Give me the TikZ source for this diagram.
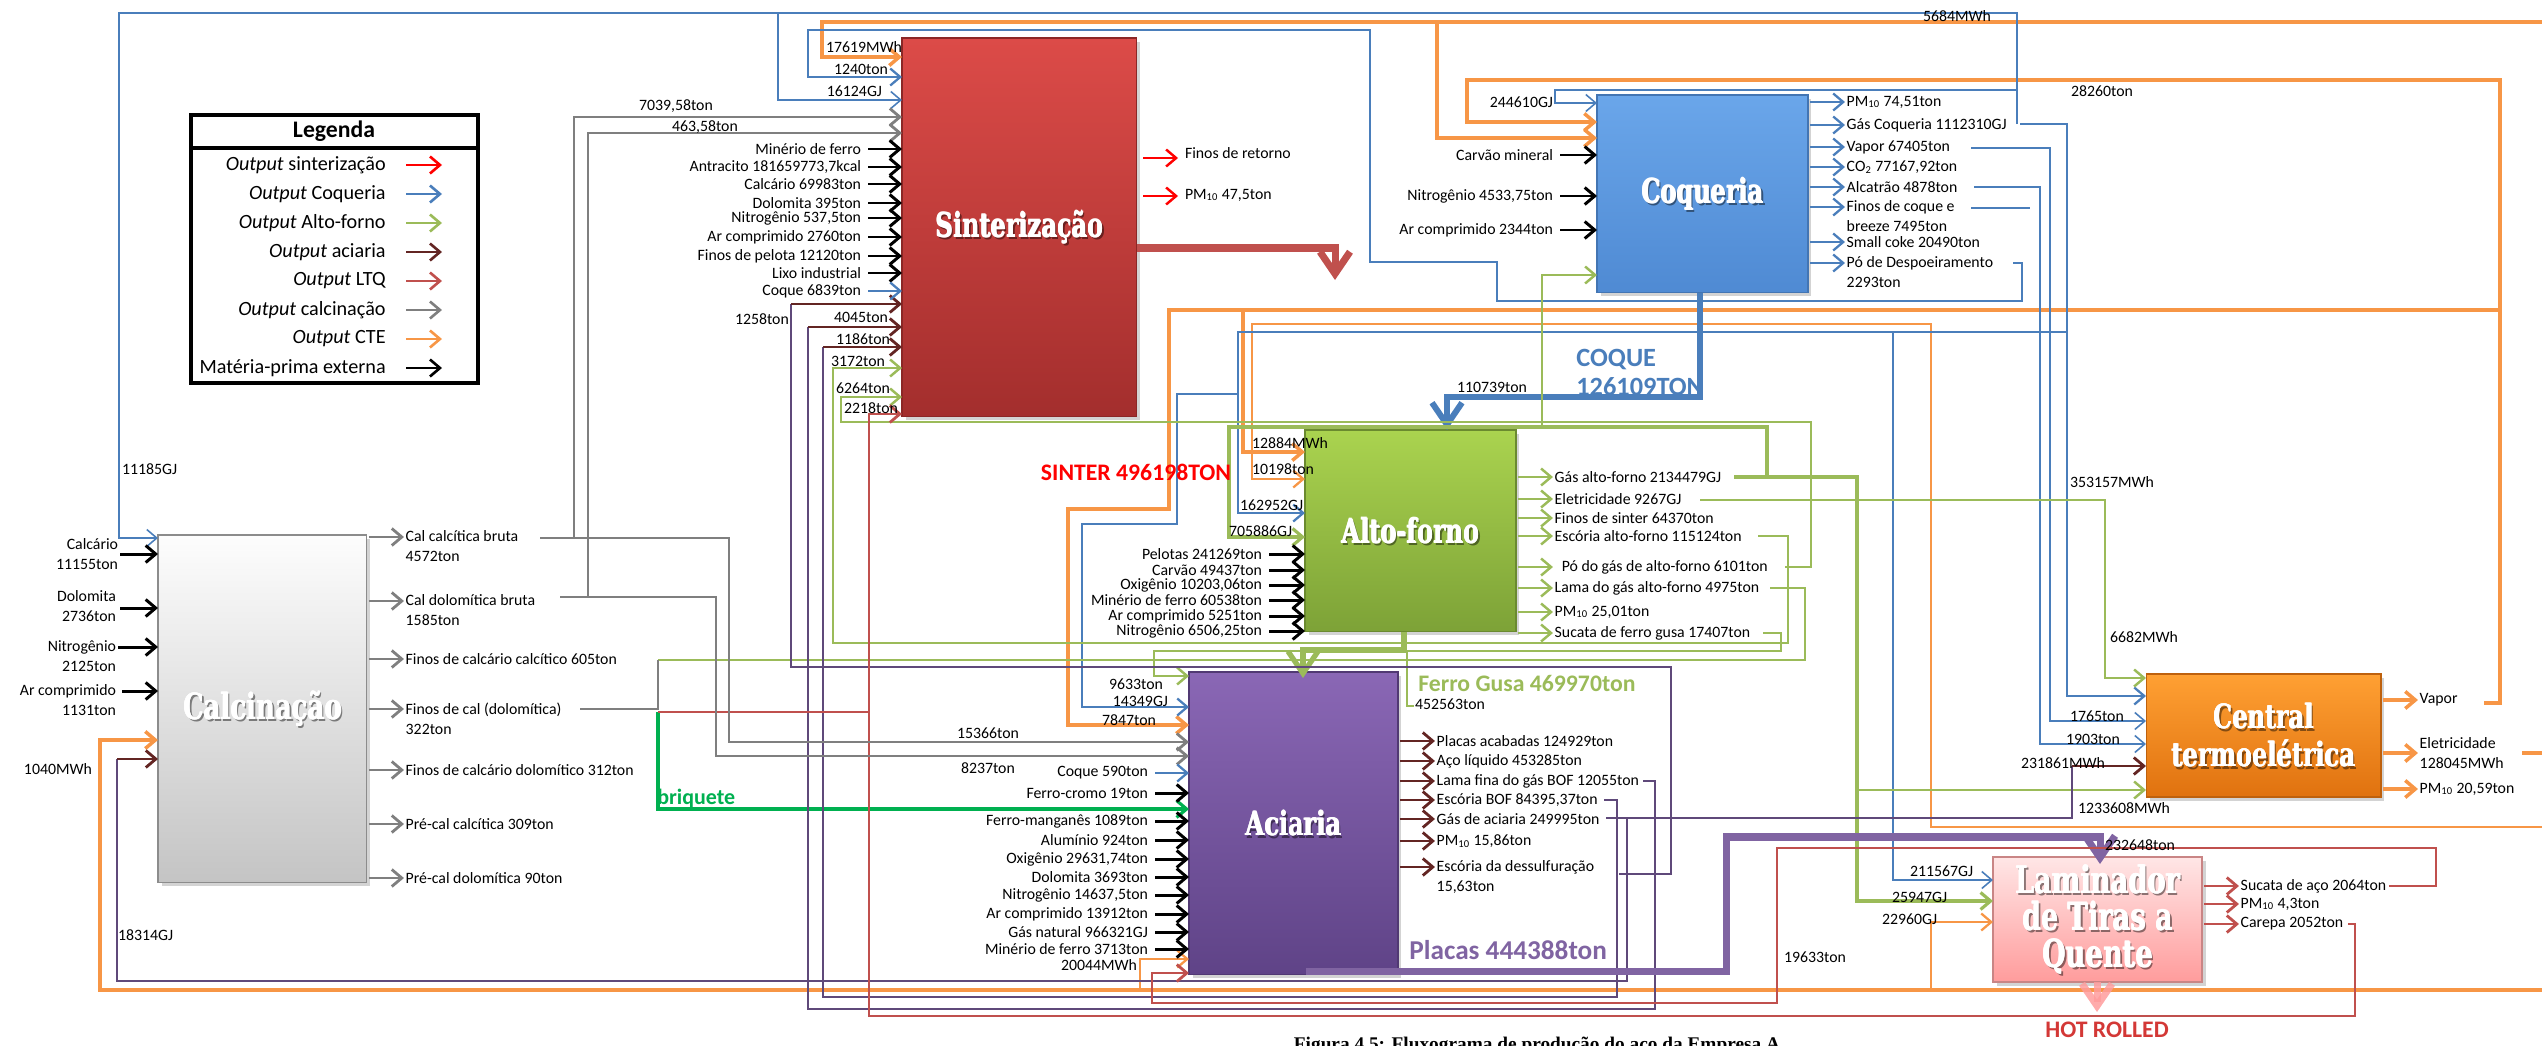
\documentclass[tikz,border=0pt]{standalone}
\usepackage{fontspec}
\setmainfont{Carlito}
\newfontfamily\titlefont{DejaVu Serif}[FakeStretch=0.72]
\newfontfamily\capfont{Liberation Serif}
\usetikzlibrary{arrows.meta,shadows}

% flow colours
\definecolor{cSin}{HTML}{FF0000}
\definecolor{cCoq}{HTML}{4A7EBB}
\definecolor{cAF}{HTML}{9BBB59}
\definecolor{cAciArr}{HTML}{632523}
\definecolor{cAci}{HTML}{5F497A}
\definecolor{cPla}{HTML}{8064A2}
\definecolor{cLTQ}{HTML}{C0504D}
\definecolor{cCal}{HTML}{7F7F7F}
\definecolor{cCTE}{HTML}{F79646}
\definecolor{cBri}{HTML}{00B050}
% box colours
\definecolor{sinT}{HTML}{DC4B48}
\definecolor{sinB}{HTML}{A32E2D}
\definecolor{coqT}{HTML}{6AA6EA}
\definecolor{coqB}{HTML}{4F8AD3}
\definecolor{afT}{HTML}{AAD34F}
\definecolor{afB}{HTML}{7DA237}
\definecolor{aciT}{HTML}{8A67B5}
\definecolor{aciB}{HTML}{5F4387}
\definecolor{calT}{HTML}{FDFDFD}
\definecolor{calB}{HTML}{C4C4C4}
\definecolor{calD}{HTML}{8C8C8C}
\definecolor{cteT}{HTML}{FFA033}
\definecolor{cteB}{HTML}{E0720F}
\definecolor{ltqT}{HTML}{FFE6E6}
\definecolor{ltqB}{HTML}{FF9C9C}
\definecolor{ltqD}{HTML}{C98585}

\tikzset{
  tipS/.style={-{Straight Barb[length=2mm,width=3.4mm]}},
  tipB/.style={-{Straight Barb[length=4.4mm,width=6mm]}},
  lbl/.style={font=\fontsize{9}{11.4}\selectfont, inner sep=0pt, outer sep=0pt},
  leg/.style={font=\fontsize{11.5}{13}\selectfont, inner sep=0pt},
  big/.style={font=\bfseries\fontsize{13.5}{15.5}\selectfont, inner sep=0pt},
  box/.style={rectangle, inner sep=0pt, outer sep=0pt, anchor=north west, line width=0.6pt,
    drop shadow={shadow xshift=2pt, shadow yshift=-2pt, opacity=0.35}},
  titl/.style={font=\titlefont\bfseries\fontsize{19}{21.6}\selectfont, text=white, align=center, inner sep=0pt},
  titlsh/.style={titl, text=black, opacity=0.45},
  lk/.style={draw=black, line width=1.7pt},
  lo/.style={draw=cCTE, line width=2pt},
  lot/.style={draw=cCTE, line width=1.3pt},
  lb/.style={draw=cCoq, line width=1.3pt},
  lbt/.style={draw=cCoq, line width=0.9pt},
  lg/.style={draw=cAF, line width=1.4pt},
  lp/.style={draw=cAci, line width=1.6pt},
  ldr/.style={draw=cAciArr, line width=1.6pt},
  lr/.style={draw=cLTQ, line width=1.6pt},
  lgr/.style={draw=cCal, line width=1.6pt},
  lsr/.style={draw=cSin, line width=1.4pt},
}

% heavy white title with a soft shadow, centred in a box
\newcommand\boxtitle[4]{%
  \node[titlsh,#3,xshift=1.2pt,yshift=-1.2pt] (#1s) at (#2.center) {#4};
  \node[titl,#3,xshift=0.35pt] (#1b) at (#2.center) {#4};
  \node[titl,#3,yshift=0.3pt] (#1c) at (#2.center) {#4};
  \node[titl,#3] (#1) at (#2.center) {#4};}
% right-aligned input label with a short arrow into a box
\newcommand\inlab[6]{%
  \node[lbl,anchor=east,align=right] (#1) at (#4,#3) {#6};
  \draw[#5,tipS] ([xshift=0.14cm]#1.east) -- (#2.west |- #1.east);}
% output arrow leaving a box, followed by its label
\newcommand\outarr[5]{%
  \draw[#4,tipS] (#2.east |- 0,#3) ++(2,0) -- ++(35,0) coordinate (#1a);
  \node[lbl,anchor=west,align=left] (#1) at ([xshift=1pt]#1a) {#5};}
% output arrow whose two-line label starts at the arrow height
\newcommand\outarrII[5]{%
  \draw[#4,tipS] (#2.east |- 0,#3) ++(2,0) -- ++(35,0) coordinate (#1a);
  \node[lbl,anchor=north west,align=left] (#1) at ([xshift=1pt,yshift=0.13cm]#1a) {#5};}

\begin{document}
\begin{tikzpicture}[x=0.02cm, y=-0.02cm]
\useasboundingbox (0,0) rectangle (2542,1045);
\clip (0,0) rectangle (2542,1045);

% ---------------- process boxes ----------------
\node[box, minimum width=4.70cm, minimum height=7.58cm, top color=sinT, bottom color=sinB, draw=sinB!85!black] (sint) at (902,38) {};
\node[box, minimum width=4.22cm, minimum height=3.96cm, top color=coqT, bottom color=coqB, draw=coqB!85!black] (coq) at (1597,95) {};
\node[box, minimum width=4.22cm, minimum height=4.04cm, top color=afT, bottom color=afB, draw=afB!85!black] (af) at (1305,430) {};
\node[box, minimum width=4.18cm, minimum height=6.06cm, top color=aciT, bottom color=aciB, draw=aciB!85!black] (aci) at (1189,672) {};
\node[box, minimum width=4.18cm, minimum height=6.96cm, top color=calT, bottom color=calB, draw=calD] (calc) at (158,535) {};
\node[box, minimum width=4.70cm, minimum height=2.46cm, top color=cteT, bottom color=cteB, draw=cteB!85!black] (cte) at (2146,674) {};
\node[box, minimum width=4.18cm, minimum height=2.50cm, top color=ltqT, bottom color=ltqB, draw=ltqD] (ltq) at (1993,857) {};

% ---------------- CTE flows (orange) ----------------
\draw[lo,tipS] (2542,22) -- (822,22) -- (822,57) -- (sint.west |- 0,57);
\draw[lo,tipS] (1437,22) -- (1437,138) -- (coq.west |- 0,138);
\draw[lo,tipS] (2484,703) -- (2500,703) -- (2500,80) -- (1467,80) -- (1467,122) -- (coq.west |- 0,122);
\draw[lo,tipS] (2500,310) -- (1169,310) -- (1169,509) -- (1068,509) -- (1068,725) -- (aci.west |- 0,725);
\draw[lo,tipS] (1243,310) -- (1243,452) -- (af.west |- 0,452);
\draw[lot,tipS] (2542,827) -- (1931,827) -- (1931,324) -- (1252,324) -- (1252,479) -- (af.west |- 0,479);
\draw[lo] (2522,753) -- (2542,753);
\draw[lo,tipS] (2542,990) -- (100,990) -- (100,740) -- (calc.west |- 0,740);
\draw[lot,tipS] (1931,990) -- (1931,922) -- (ltq.west |- 0,922);
\draw[lot,tipS] (1140,990) -- (1140,959) -- (aci.west |- 0,959);

% ---------------- coke-oven flows (blue) ----------------
\draw[lb,tipS] (2020,124) -- (2067,124) -- (2067,696) -- (cte.west |- 0,696);
\draw[lb,tipS] (2067,332) -- (1238,332) -- (1238,513) -- (af.west |- 0,513);
\draw[lb,tipS] (1238,394) -- (1177,394) -- (1177,524) -- (1082,524) -- (1082,707) -- (aci.west |- 0,707);
\draw[lbt,tipS] (1893,332) -- (1893,880) -- (ltq.west |- 0,880);
\draw[lbt,tipS] (2017,124) -- (2017,13) -- (119,13) -- (119,538) -- (calc.west |- 0,538);
\draw[lbt,tipS] (778,13) -- (778,100) -- (sint.west |- 0,100);
\draw[lbt,tipS] (2017,90) -- (1555,90) -- (1555,103) -- (coq.west |- 0,103);
\draw[lb,tipS] (2013,263) -- (2022,263) -- (2022,301) -- (1497,301) -- (1497,262) -- (1370,262) -- (1370,30) -- (808,30) -- (808,77) -- (sint.west |- 0,77);
\draw[lbt,tipS] (1971,148) -- (2050,148) -- (2050,721) -- (cte.west |- 0,721);
\draw[lbt,tipS] (1974,187) -- (2040,187) -- (2040,744) -- (cte.west |- 0,744);
\draw[lb] (1971,208) -- (2030,208);
\draw[draw=cCoq, line width=3.4pt, tipB] (coq.south -| 1700,0) -- (1700,397) -- (1447,397) -- (af.north -| 1447,0);

% ---------------- blast-furnace flows (green) ----------------
\draw[lg,line width=1.8pt,tipS] (1734,477) -- (1857,477) -- (1857,901) -- (ltq.west |- 0,901);
\draw[lg,tipS] (1857,790) -- (cte.west |- 0,790);
\draw[lg,line width=1.8pt,tipS] (1767,477) -- (1767,427) -- (1229,427) -- (1229,537) -- (af.west |- 0,537);
\draw[lg,tipS] (1542,427) -- (1542,275) -- (coq.west |- 0,275);
\draw[lg,tipS] (1700,500) -- (2105,500) -- (2105,678) -- (cte.west |- 0,678);
\draw[lg,tipS] (1758,536) -- (1788,536) -- (1788,643) -- (833,643) -- (833,368) -- (sint.west |- 0,368);
\draw[lg,tipS] (1785,567) -- (1811,567) -- (1811,422) -- (841,422) -- (841,397) -- (sint.west |- 0,397);
\draw[lg] (1770,588) -- (1805,588) -- (1805,660) -- (658,660);
\draw[lg,tipS] (1763,633) -- (1781,633) -- (1781,651) -- (1154,651) -- (1154,676) -- (aci.west |- 0,676);
\draw[draw=cAF, line width=3pt, tipB] (af.south -| 1404,0) -- (1404,650) -- (1303,650) -- (1303,678);
\draw[lg, line width=1pt] (1407,650) -- (1407,706) -- (1414,706);
\draw[draw=cBri, line width=1.8pt, tipS] (658,712) -- (658,809) -- (aci.west |- 0,809);

% ---------------- steel-shop flows (purple) ----------------
\draw[lp] (1619,874) -- (1671,874) -- (1671,667) -- (791,667) -- (791,304);
\draw[ldr,tipS] (791,304) -- (sint.west |- 0,304);
\draw[lp] (1643,781) -- (1655,781) -- (1655,1009) -- (808,1009) -- (808,327);
\draw[ldr,tipS] (808,327) -- (sint.west |- 0,327);
\draw[lp] (1604,800) -- (1617,800) -- (1617,997) -- (823,997) -- (823,347);
\draw[ldr,tipS] (823,347) -- (sint.west |- 0,347);
\draw[lp] (1606,818) -- (2072,818) -- (2072,766);
\draw[ldr,tipS] (2072,766) -- (cte.west |- 0,766);
\draw[lp] (1627,818) -- (1627,981) -- (117,981) -- (117,759);
\draw[ldr,tipS] (117,759) -- (calc.west |- 0,759);
\draw[draw=cPla, line width=4pt, tipB] (1306,971) -- (1726,971) -- (1726,837) -- (2100,837) -- (2100,864);

% ---------------- hot strip mill flows (red) ----------------
\draw[lr,tipS] (2348,924) -- (2355,924) -- (2355,1016) -- (869,1016) -- (869,414) -- (sint.west |- 0,414);
\draw[lr] (869,712) -- (658,712);
\draw[lr,tipS] (2389,886) -- (2436,886) -- (2436,848) -- (1777,848) -- (1777,1003) -- (1152,1003) -- (1152,973) -- (aci.west |- 0,973);
\draw[draw=ltqB, line width=4pt, tipB, opacity=0.85] (ltq.south -| 2097,0) -- (2097,1012);

% ---------------- calcination flows (grey) ----------------
\draw[lgr,tipS] (540,538) -- (729,538) -- (729,742) -- (aci.west |- 0,742);
\draw[lgr,tipS] (574,538) -- (574,117) -- (sint.west |- 0,117);
\draw[lgr,tipS] (560,597) -- (716,597) -- (716,756) -- (aci.west |- 0,756);
\draw[lgr,tipS] (588,597) -- (588,133) -- (sint.west |- 0,133);
\draw[lgr] (580,709) -- (658,709) -- (658,660);

% sinter plant: thick output arrow and small outputs
\draw[draw=cLTQ, line width=4pt, tipB] (sint.east |- 0,248) -- (1335,248) -- (1335,280);
\draw[lsr,tipS] (1143,158) -- (1178,158);
\draw[lsr,tipS] (1143,196) -- (1178,196);
\node[lbl,anchor=west] (fret) at (1185,153) {Finos de retorno};
\node[lbl,anchor=west] (spm) at (1185,195) {PM\textsubscript{10} 47,5ton};

% ---------------- box titles ----------------
\boxtitle{sintT}{sint}{}{Sinterização}
\boxtitle{coqT}{coq}{}{Coqueria}
\boxtitle{afT}{af}{}{Alto-forno}
\boxtitle{aciT}{aci}{}{Aciaria}
\boxtitle{calcT}{calc}{font=\titlefont\bfseries\fontsize{20.5}{22}\selectfont}{Calcinação}
\boxtitle{cteT}{cte}{}{Central\\termoelétrica}
\boxtitle{ltqT}{ltq}{font=\titlefont\bfseries\fontsize{21.5}{21}\selectfont}{Laminador\\de Tiras a\\Quente}

% ---------------- sinter plant inputs ----------------
\inlab{si1}{sint}{149}{861}{lk}{Minério de ferro}
\inlab{si2}{sint}{167}{861}{lk}{Antracito 181659773,7kcal}
\inlab{si3}{sint}{184}{861}{lk}{Calcário 69983ton}
\inlab{si4}{sint}{203}{861}{lk}{Dolomita 395ton}
\inlab{si5}{sint}{218}{861}{lk}{Nitrogênio 537,5ton}
\inlab{si6}{sint}{237}{861}{lk}{Ar comprimido 2760ton}
\inlab{si7}{sint}{256}{861}{lk}{Finos de pelota 12120ton}
\inlab{si8}{sint}{273}{861}{lk}{Lixo industrial}
\inlab{si9}{sint}{291}{861}{lb}{Coque 6839ton}
\node[lbl,anchor=west] (l17619) at (826,47) {17619MWh};
\node[lbl,anchor=east] (l1240) at (888,69) {1240ton};
\node[lbl,anchor=east] (l16124) at (882,91) {16124GJ};
\node[lbl,anchor=west] (l7039) at (639,106) {7039,58ton};
\node[lbl,anchor=west] (l463) at (672,127) {463,58ton};
\node[lbl,anchor=west] (l1258) at (735,319) {1258ton};
\node[lbl,anchor=east] (l4045) at (888,317) {4045ton};
\node[lbl,anchor=east] (l1186) at (890,339) {1186ton};
\node[lbl,anchor=east] (l3172) at (885,361) {3172ton};
\node[lbl,anchor=east] (l6264) at (890,388) {6264ton};
\node[lbl,anchor=east] (l2218) at (898,408) {2218ton};

% ---------------- coke plant ----------------
\node[lbl,anchor=east] (l244610) at (1553,102) {244610GJ};
\inlab{ci1}{coq}{155}{1553}{lk}{Carvão mineral}
\inlab{ci2}{coq}{196}{1553}{lk}{Nitrogênio 4533,75ton}
\inlab{ci3}{coq}{230}{1553}{lk}{Ar comprimido 2344ton}
\outarr{q1}{coq}{102}{lb}{PM\textsubscript{10} 74,51ton}
\outarr{q2}{coq}{125}{lb}{Gás Coqueria 1112310GJ}
\outarr{q3}{coq}{147}{lb}{Vapor 67405ton}
\outarr{q4}{coq}{167}{lb}{CO\textsubscript{2} 77167,92ton}
\outarr{q5}{coq}{187}{lb}{Alcatrão 4878ton}
\outarrII{q6}{coq}{207}{lb}{Finos de coque e\\breeze 7495ton}
\outarr{q7}{coq}{242}{lb}{Small coke 20490ton}
\outarrII{q8}{coq}{263}{lb}{Pó de Despoeiramento\\2293ton}
\node[big, text=cCoq, align=left, anchor=west, font=\bfseries\fontsize{15}{16.5}\selectfont] (coqlab) at (1576,372) {COQUE\\126109TON};
\node[lbl,anchor=west] (l110739) at (1457,387) {110739ton};

% ---------------- blast furnace ----------------
\node[lbl,anchor=west] (l12884) at (1252,443) {12884MWh};
\node[lbl,anchor=west] (l10198) at (1252,469) {10198ton};
\node[lbl,anchor=west] (l162952) at (1240,505) {162952GJ};
\node[lbl,anchor=west] (l705886) at (1229,531) {705886GJ};
\inlab{ai1}{af}{554}{1262}{lk}{Pelotas 241269ton}
\inlab{ai2}{af}{570}{1262}{lk}{Carvão 49437ton}
\inlab{ai3}{af}{585}{1262}{lk}{Oxigênio 10203,06ton}
\inlab{ai4}{af}{600}{1262}{lk}{Minério de ferro 60538ton}
\inlab{ai5}{af}{616}{1262}{lk}{Ar comprimido 5251ton}
\inlab{ai6}{af}{631}{1262}{lk}{Nitrogênio 6506,25ton}
\outarr{ao1}{af}{477}{lg}{Gás alto-forno 2134479GJ}
\outarr{ao2}{af}{499}{lg}{Eletricidade 9267GJ}
\outarr{ao3}{af}{518}{lg}{Finos de sinter 64370ton}
\outarr{ao4}{af}{536}{lg}{Escória alto-forno 115124ton}
\outarr{ao5}{af}{567}{lg}{\hspace{4pt}Pó do gás de alto-forno 6101ton}
\outarr{ao6}{af}{588}{lg}{Lama do gás alto-forno 4975ton}
\outarr{ao7}{af}{612}{lg}{PM\textsubscript{10} 25,01ton}
\outarr{ao8}{af}{633}{lg}{Sucata de ferro gusa 17407ton}
\node[big, text=cAF, anchor=west] (gusa) at (1418,683) {Ferro Gusa 469970ton};
\node[lbl,anchor=west] (l452563) at (1415,704) {452563ton};
\node[big, text=red] (sinlab) at (1136,472) {SINTER 496198TON};

% ---------------- steel shop ----------------
\node[lbl,anchor=east] (l9633) at (1163,684) {9633ton};
\node[lbl,anchor=east] (l14349) at (1168,701) {14349GJ};
\node[lbl,anchor=east] (l7847) at (1156,720) {7847ton};
\node[lbl,anchor=west] (l15366) at (957,733) {15366ton};
\node[lbl,anchor=west] (l8237) at (961,768) {8237ton};
\inlab{ki0}{aci}{773}{1148}{lb}{Coque 590ton}
\inlab{ki1}{aci}{793}{1148}{lk}{Ferro-cromo 19ton}
\inlab{ki2}{aci}{821}{1148}{lk}{Ferro-manganês 1089ton}
\inlab{ki3}{aci}{840}{1148}{lk}{Alumínio 924ton}
\inlab{ki4}{aci}{859}{1148}{lk}{Oxigênio 29631,74ton}
\inlab{ki5}{aci}{877}{1148}{lk}{Dolomita 3693ton}
\inlab{ki6}{aci}{895}{1148}{lk}{Nitrogênio 14637,5ton}
\inlab{ki7}{aci}{914}{1148}{lk}{Ar comprimido 13912ton}
\inlab{ki8}{aci}{932}{1148}{lk}{Gás natural 966321GJ}
\inlab{ki9}{aci}{949}{1148}{lk}{Minério de ferro 3713ton}
\node[lbl,anchor=east] (l20044) at (1137,965) {20044MWh};
\outarr{ko1}{aci}{741}{ldr}{Placas acabadas 124929ton}
\outarr{ko2}{aci}{761}{ldr}{Aço líquido 453285ton}
\outarr{ko3}{aci}{781}{ldr}{Lama fina do gás BOF 12055ton}
\outarr{ko4}{aci}{800}{ldr}{Escória BOF 84395,37ton}
\outarr{ko5}{aci}{819}{ldr}{Gás de aciaria 249995ton}
\outarr{ko6}{aci}{841}{ldr}{PM\textsubscript{10} 15,86ton}
\outarrII{ko7}{aci}{867}{ldr}{Escória da dessulfuração\\15,63ton}
\node[big, text=cPla, anchor=west, font=\bfseries\fontsize{15.5}{17}\selectfont] (placas) at (1409,950) {Placas 444388ton};
\node[big, text=cBri, anchor=west, font=\bfseries\fontsize{12.5}{14}\selectfont] (briq) at (657,799) {briquete};

% ---------------- power plant ----------------
\node[lbl,anchor=west] (l6682) at (2110,637) {6682MWh};
\node[lbl,anchor=west] (l353157) at (2070,482) {353157MWh};
\node[lbl,anchor=west] (l1765) at (2070,716) {1765ton};
\node[lbl,anchor=west] (l1903) at (2066,739) {1903ton};
\node[lbl,anchor=west] (l231861) at (2021,763) {231861MWh};
\node[lbl,anchor=west] (l1233608) at (2078,808) {1233608MWh};
\node[lbl,anchor=west] (l5684) at (1923,16) {5684MWh};
\node[lbl,anchor=west] (l28260) at (2071,91) {28260ton};
\outarr{to1}{cte}{700}{lo}{Vapor}
\outarr{to2}{cte}{753}{lo}{Eletricidade\\128045MWh}
\outarr{to3}{cte}{789}{lo}{PM\textsubscript{10} 20,59ton}

% ---------------- hot strip mill ----------------
\node[lbl,anchor=west] (l211567) at (1910,871) {211567GJ};
\node[lbl,anchor=west] (l25947) at (1892,897) {25947GJ};
\node[lbl,anchor=west] (l22960) at (1882,919) {22960GJ};
\node[lbl,anchor=west] (l232648) at (2105,845) {232648ton};
\node[lbl,anchor=west] (l19633) at (1784,957) {19633ton};
\outarr{lo1}{ltq}{886}{lr}{Sucata de aço 2064ton}
\outarr{lo2}{ltq}{904}{lr}{PM\textsubscript{10} 4,3ton}
\outarr{lo3}{ltq}{924}{lr}{Carepa 2052ton}
\node[big, text=cLTQ!70!red] (hot) at (2107,1030) {HOT ROLLED};

% ---------------- calcination ----------------
\node[lbl,anchor=west] (l11185) at (122,469) {11185GJ};
\node[lbl,anchor=west] (l1040) at (24,769) {1040MWh};
\node[lbl,anchor=west] (l18314) at (118,935) {18314GJ};
\node[lbl,anchor=east,align=right] (cin1) at (118,554) {Calcário\\11155ton};
\draw[lk,tipS] (120,554) -- (calc.west |- 0,554);
\node[lbl,anchor=east,align=right] (cin2) at (116,606) {Dolomita\\2736ton};
\draw[lk,tipS] (120,608) -- (calc.west |- 0,608);
\node[lbl,anchor=east,align=right] (cin3) at (116,656) {Nitrogênio\\2125ton};
\draw[lk,tipS] (118,647) -- (calc.west |- 0,647);
\node[lbl,anchor=east,align=right] (cin4) at (116,700) {Ar comprimido\\1131ton};
\draw[lk,tipS] (122,691) -- (calc.west |- 0,691);
\outarrII{co1}{calc}{537}{lgr}{Cal calcítica bruta\\4572ton}
\outarrII{co2}{calc}{601}{lgr}{Cal dolomítica bruta\\1585ton}
\outarr{co3}{calc}{659}{lgr}{Finos de calcário calcítico 605ton}
\outarrII{co4}{calc}{709}{lgr}{Finos de cal (dolomítica)\\322ton}
\outarr{co5}{calc}{770}{lgr}{Finos de calcário dolomítico 312ton}
\outarr{co6}{calc}{824}{lgr}{Pré-cal calcítica 309ton}
\outarr{co7}{calc}{878}{lgr}{Pré-cal dolomítica 90ton}

% ---------------- legend ----------------
\draw[line width=2.8pt] (191,115) rectangle (478,383);
\draw[line width=2.8pt] (191,148) -- (478,148);
\node[font=\bfseries\fontsize{13.5}{16}\selectfont, inner sep=0pt] (legT) at (334,131) {Legenda};
\foreach \yy/\col/\txt [count=\i] in {165/cSin/{\textit{Output} sinterização},
    194/cCoq/{\textit{Output} Coqueria}, 223/cAF/{\textit{Output} Alto-forno},
    252/cAciArr/{\textit{Output} aciaria}, 281/cLTQ/{\textit{Output} LTQ},
    310/cCal/{\textit{Output} calcinação}, 339/cCTE/{\textit{Output} CTE},
    368/black/{Matéria-prima externa}}{
  \node[leg, anchor=east] (leg\i) at (386,\yy) {\txt};
  \draw[draw=\col, line width=1.5pt, tipS] (406,\yy) -- (442,\yy);
}

% caption, cut by the lower edge
\node[font=\capfont\bfseries\fontsize{11}{13}\selectfont, anchor=north, inner sep=0pt] (cap) at (1537,1037) {Figura 4.5: Fluxograma de produção do aço da Empresa A};
\end{tikzpicture}
\end{document}
